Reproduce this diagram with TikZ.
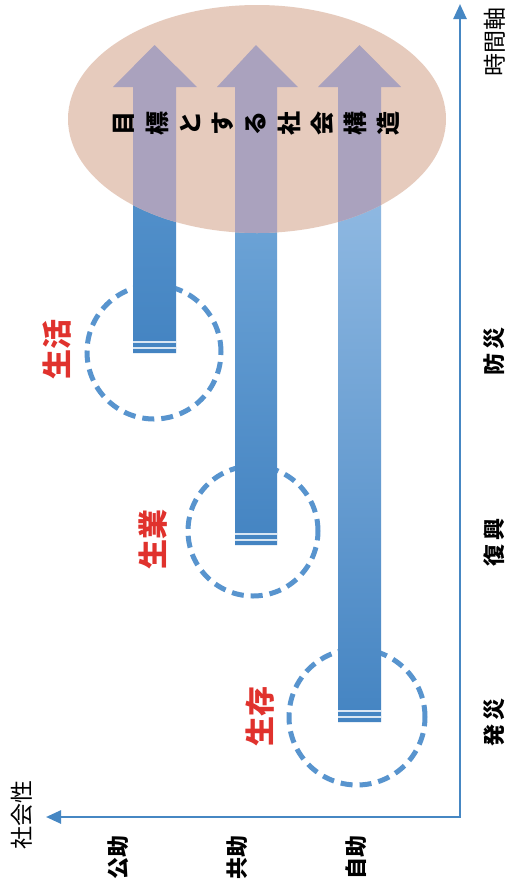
\documentclass[tikz,border=0pt]{standalone}
\usepackage{fontspec}
\setmainfont{Noto Sans CJK JP}
\usetikzlibrary{arrows.meta}
\definecolor{axisblue}{RGB}{70,135,195}
\definecolor{ringblue}{RGB}{88,148,206}
\definecolor{ellfill}{RGB}{230,203,189}
\definecolor{lavender}{RGB}{170,162,190}
\definecolor{darkshaft}{RGB}{68,132,194}
\definecolor{midshaft}{RGB}{86,148,205}
\definecolor{topA}{RGB}{95,155,210}
\definecolor{topB}{RGB}{130,180,225}
\definecolor{topC}{RGB}{165,200,235}
\definecolor{labred}{RGB}{224,50,45}
\newcommand\ArrowShape[5]{(#1,#5) -- (#1,87) -- (#3,87) -- ({(#1+#2)/2},45) -- (#4,87) -- (#2,87) -- (#2,#5) -- cycle}
\newcommand\ShaftLines[3]{%
  \draw[white,opacity=0.8,line width=1.2pt] (#1,#3-11) -- (#2,#3-11);
  \draw[white,opacity=0.8,line width=1.2pt] (#1,#3-5) -- (#2,#3-5);}
\begin{document}
\begin{tikzpicture}[x=1pt,y=-1pt,
  axis/.style={draw=axisblue,line width=2.5pt,{Triangle[length=15pt,width=13pt]}-{Triangle[length=15pt,width=13pt]}},
  ring/.style={draw=ringblue,line width=5pt,dash pattern=on 12pt off 7pt},
  axlabel/.style={rotate=90,font=\fontsize{23pt}{26pt}\selectfont,text=black,inner sep=0pt},
  ticklabel/.style={rotate=90,font=\fontsize{22pt}{26pt}\selectfont\bfseries,text=black,inner sep=0pt},
  phase/.style={rotate=90,font=\fontsize{30pt}{34pt}\selectfont\bfseries,text=labred,inner sep=0pt},
  goal/.style={rotate=90,font=\fontsize{24pt}{26pt}\selectfont\bfseries,text=black,inner sep=0pt}]
\useasboundingbox (0,0) rectangle (510,887);
\fill[white] (0,0) rectangle (510,887);

% dashed circles
\draw[ring] (154,352) circle[radius=67pt];
\draw[ring] (253,531) circle[radius=65pt];
\draw[ring] (357,717) circle[radius=68pt];

% arrows (blue gradient)
\shade[top color=topA,bottom color=darkshaft] \ArrowShape{133}{176}{113}{197}{353};
\shade[top color=topB,middle color=midshaft,bottom color=darkshaft] \ArrowShape{235}{277}{217}{298}{545};
\shade[top color=topC,middle color=midshaft,bottom color=darkshaft] \ArrowShape{338}{381}{318}{401}{722};
\ShaftLines{133}{176}{353}
\ShaftLines{235}{277}{545}
\ShaftLines{338}{381}{722}

% ellipse
\fill[ellfill] (257,119) ellipse[x radius=189pt,y radius=114pt];
\begin{scope}
  \clip (257,119) ellipse[x radius=189pt,y radius=114pt];
  \fill[lavender] \ArrowShape{133}{176}{113}{197}{353};
  \fill[lavender] \ArrowShape{235}{277}{217}{298}{545};
  \fill[lavender] \ArrowShape{338}{381}{318}{401}{722};
\end{scope}

% goal text
\foreach \c [count=\i from 0] in {目,標,と,す,る,社,会,構,造}
  \node[goal] (g\i) at ({124+33*\i},123) {\c};

% axes
\coordinate (O) at (460,817);
\coordinate (ytip) at (460,4);
\coordinate (xtip) at (46,817);
\draw[axis] (ytip) -- (O) -- (xtip);

% axis labels
\node[axlabel] (tl) at (495,42) {時間軸};
\node[axlabel] (sl) at (22,815) {社会性};
\node[ticklabel] (t1) at (494,351) {防\hspace{4pt}災};
\node[ticklabel] (t2) at (494,542) {復\hspace{4pt}興};
\node[ticklabel] (t3) at (494,722) {発\hspace{4pt}災};
\node[ticklabel] (s1) at (118,857) {公助};
\node[ticklabel] (s2) at (237,857) {共助};
\node[ticklabel] (s3) at (356,857) {自助};

% phase labels
\node[phase] (p1) at (57,349) {生活};
\node[phase] (p2) at (153,539) {生業};
\node[phase] (p3) at (260,716) {生存};
\end{tikzpicture}
\end{document}
